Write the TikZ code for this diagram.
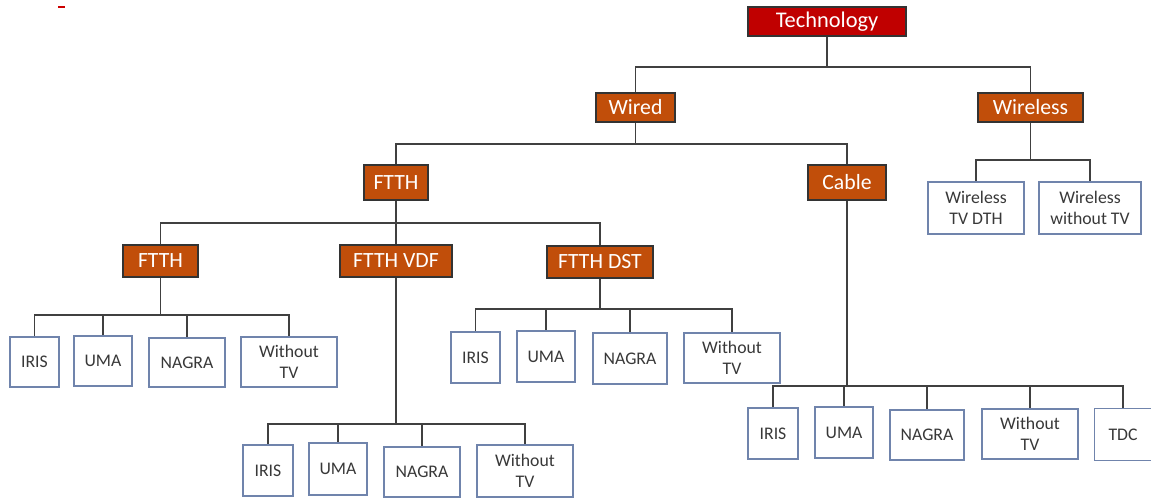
\documentclass[tikz,border=0pt]{standalone}
\usepackage{fontspec}
\setmainfont{Carlito}
\definecolor{techred}{RGB}{192,0,0}
\definecolor{rust}{RGB}{193,78,10}
\definecolor{boxblue}{RGB}{112,132,172}
\definecolor{wire}{RGB}{64,64,64}
\begin{document}
\begin{tikzpicture}[x=0.75pt,y=-0.75pt,
  sz/.style 2 args={minimum width=#1*0.75pt, minimum height=#2*0.75pt},
  catbox/.style={draw=black!80, line width=0.8pt, fill=rust, text=white, inner sep=0pt, font=\fontsize{16.3}{18}\selectfont},
  topbox/.style={draw=black!80, line width=0.8pt, fill=techred, text=white, inner sep=0pt, font=\fontsize{16.8}{18}\selectfont},
  leafbox/.style={draw=boxblue, line width=1pt, fill=white, text=black!78, inner sep=0pt, align=center, font=\fontsize{13.3}{15.5}\selectfont},
  link/.style={draw=wire, line width=1.2pt}]
\useasboundingbox (0,0) rectangle (1151,497);
\draw[red!80!black, line width=1.5pt] (58,7) -- (65,7);

% main nodes
\node[topbox, sz={158}{29}] (tech) at (827,21.5) {Technology};
\node[catbox, sz={79}{29}] (wired) at (635.5,107.5) {Wired};
\node[catbox, sz={105}{29}] (wireless) at (1030.5,107.5) {Wireless};
\node[leafbox, sz={96}{52}] (wl1) at (976,208) {Wireless\\TV DTH};
\node[leafbox, sz={102}{52}] (wl2) at (1090,208) {Wireless\\without TV};
\node[catbox, sz={64}{35}] (ftth) at (396,182.5) {FTTH};
\node[catbox, sz={78}{35}] (cable) at (847,182.5) {Cable};
\node[catbox, sz={75}{32}] (ftthA) at (160.5,261) {FTTH};
\node[catbox, sz={112}{32}] (vdf) at (396,261) {FTTH VDF};
\node[catbox, sz={106}{32}] (dst) at (600,262) {FTTH DST};

% FTTH children
\node[leafbox, sz={49}{50}] (a1) at (34.5,362) {IRIS};
\node[leafbox, sz={58}{50}] (a2) at (103,361) {UMA};
\node[leafbox, sz={76}{49}] (a3) at (187,362.5) {NAGRA};
\node[leafbox, sz={96}{50}] (a4) at (289,362) {Without\\TV};
% DST children
\node[leafbox, sz={49}{51}] (d1) at (475.5,357.5) {IRIS};
\node[leafbox, sz={58}{51}] (d2) at (546,356.5) {UMA};
\node[leafbox, sz={74}{51}] (d3) at (630,358.5) {NAGRA};
\node[leafbox, sz={96}{50}] (d4) at (732,358) {Without\\TV};
% VDF children
\node[leafbox, sz={50}{51}] (v1) at (268,470.5) {IRIS};
\node[leafbox, sz={58}{52}] (v2) at (338,469) {UMA};
\node[leafbox, sz={76}{50}] (v3) at (422,472) {NAGRA};
\node[leafbox, sz={96}{52}] (v4) at (525,471) {Without\\TV};
% Cable children
\node[leafbox, sz={50}{51}] (c1) at (773,433.5) {IRIS};
\node[leafbox, sz={58}{51}] (c2) at (844,432.5) {UMA};
\node[leafbox, sz={74}{50}] (c3) at (927,435) {NAGRA};
\node[leafbox, sz={96}{50}] (c4) at (1030,434) {Without\\TV};
% TDC box runs past the right edge of the picture
\node[leafbox, draw=none, fill=none, sz={56}{51}] (c5) at (1123,434.5) {TDC};
\draw[boxblue, line width=1pt] (c5.north east) ++(20,0) -- (c5.north west) -- (c5.south west) -- ++(76,0);

% bus coordinates
\coordinate (bt) at (tech.south |- 0,67);
\coordinate (bw) at (wired.south |- 0,144);
\coordinate (bwl) at (wireless.south |- 0,160);
\coordinate (bf) at (ftth.south |- 0,223);
\coordinate (ba) at (ftthA.south |- 0,315);
\coordinate (bd) at (dst.south |- 0,309);
\coordinate (bv) at (vdf.south |- 0,424);
\coordinate (bc) at (cable.south |- 0,386);

% connectors
\draw[link] (tech.south) -- (bt);
\draw[link] (bt) -| (wired.north);
\draw[link] (bt) -| (wireless.north);

\draw[link] (wireless.south) -- (bwl);
\draw[link] (bwl) -| (wl1.north);
\draw[link] (bwl) -| (wl2.north);

\draw[link] (wired.south) -- (bw);
\draw[link] (bw) -| (ftth.north);
\draw[link] (bw) -| (cable.north);

\draw[link] (ftth.south) -- (bf);
\draw[link] (bf) -| (ftthA.north);
\draw[link] (bf) -- (vdf.north);
\draw[link] (bf) -| (dst.north);

\draw[link] (ftthA.south) -- (ba);
\foreach \n in {a1,a2,a3,a4} \draw[link] (ba) -| (\n.north);

\draw[link] (dst.south) -- (bd);
\foreach \n in {d1,d2,d3,d4} \draw[link] (bd) -| (\n.north);

\draw[link] (vdf.south) -- (bv);
\foreach \n in {v1,v2,v3,v4} \draw[link] (bv) -| (\n.north);

\draw[link] (cable.south) -- (bc);
\foreach \n in {c1,c2,c3,c4,c5} \draw[link] (bc) -| (\n.north);
\end{tikzpicture}
\end{document}
